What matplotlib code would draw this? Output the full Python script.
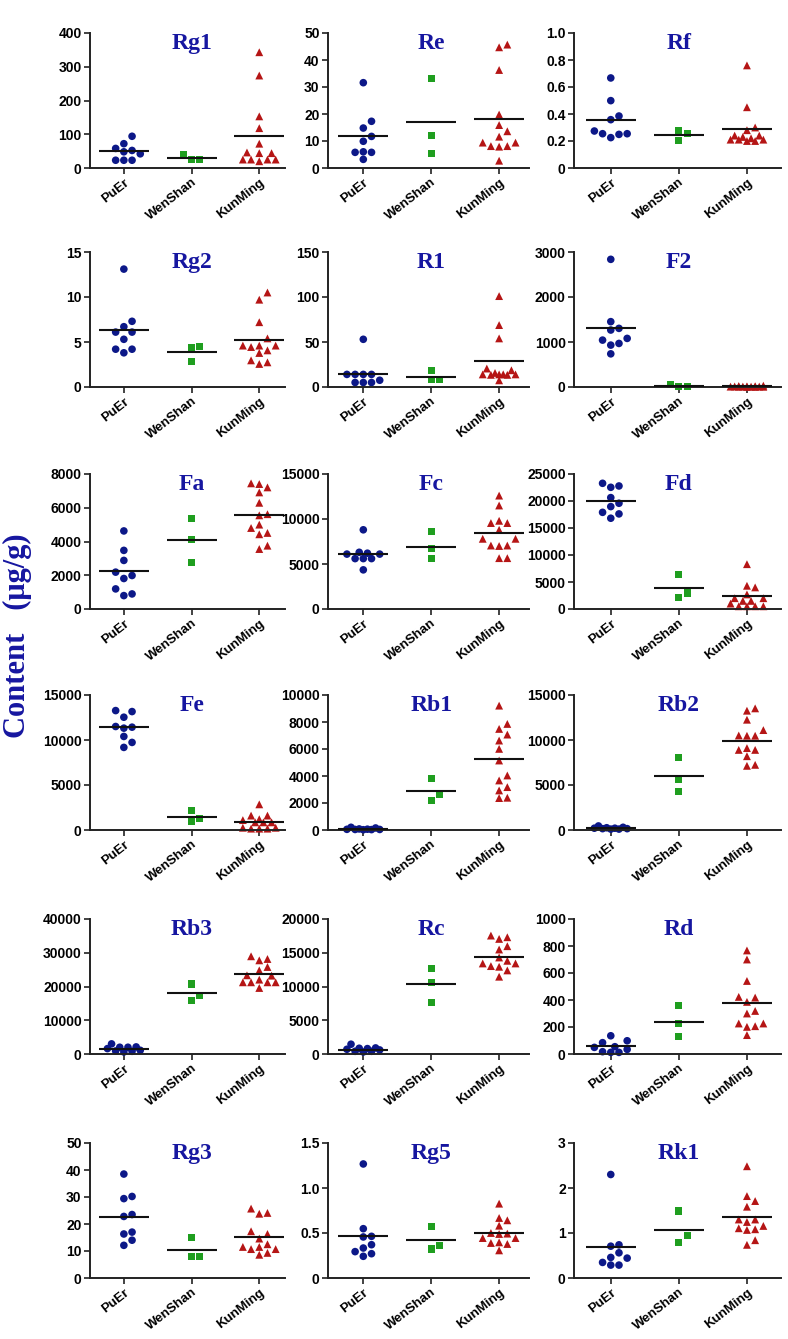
import numpy as np
import matplotlib
matplotlib.use('Agg')
import matplotlib.pyplot as plt
from matplotlib.ticker import FuncFormatter

origins = ['PuEr', 'WenShan', 'KunMing']
compounds = ['Rg1', 'Re', 'Rf', 'Rg2', 'R1', 'F2', 'Fa', 'Fc', 'Fd',
             'Fe', 'Rb1', 'Rb2', 'Rb3', 'Rc', 'Rd', 'Rg3', 'Rg5', 'Rk1']
y_max = [400, 50, 1.0, 15, 150, 3000, 8000, 15000, 25000,
         15000, 10000, 15000, 40000, 20000, 1000, 50, 1.5, 3]
y_step = [100, 10, 0.2, 5, 50, 1000, 2000, 5000, 5000,
          5000, 2000, 5000, 10000, 5000, 200, 10, 0.5, 1]

# values (ug/g)
puer = [
    [94, 72, 58, 52, 48, 42, 23, 23, 23],
    [31.6, 17.3, 14.8, 11.7, 9.9, 6.0, 5.8, 5.8, 3.2],
    [0.667, 0.499, 0.385, 0.358, 0.274, 0.254, 0.225, 0.249, 0.254],
    [13.1, 7.3, 6.7, 6.1, 6.1, 5.3, 4.2, 4.2, 3.8],
    [53, 14, 14, 14, 14, 7.5, 5, 5, 5],
    [2837, 1452, 1266, 1303, 1080, 968, 931, 1042, 737],
    [4626, 3474, 2879, 2184, 1985, 1807, 1191, 794, 893],
    [8800, 6300, 6200, 6100, 6100, 5600, 5600, 5600, 4350],
    [23276, 22783, 22537, 20628, 19581, 18966, 17900, 17611, 16810],
    [13159, 13269, 12532, 11500, 11426, 11316, 10394, 9731, 9178],
    [200, 150, 80, 60, 50, 40, 40, 30, 20],
    [450, 300, 250, 200, 200, 150, 150, 100, 100],
    [3000, 2100, 2000, 2000, 1600, 1100, 900, 800, 600],
    [1450, 900, 850, 800, 700, 600, 400, 400, 300],
    [135, 98, 84, 54, 49, 34, 17, 12, 12],
    [38.5, 30.2, 29.4, 23.5, 22.8, 17.0, 16.3, 14.0, 12.1],
    [1.267, 0.548, 0.463, 0.456, 0.370, 0.333, 0.293, 0.270, 0.241],
    [2.30, 0.737, 0.707, 0.56, 0.457, 0.442, 0.346, 0.287, 0.287],
]
wenshan = [
    [40, 24, 24],
    [33.1, 12.0, 5.4],
    [0.279, 0.254, 0.205],
    [4.48, 4.4, 2.85],
    [18, 8, 8],
    [50, 5, 5],
    [5360, 4110, 2780],
    [8615, 6684, 5570],
    [6342, 2956, 2155],
    [2211, 1290, 921],
    [3793, 2611, 2167],
    [8057, 5644, 4307],
    [20740, 17284, 15901],
    [12727, 10565, 7617],
    [359, 226, 128],
    [15.1, 8.0, 8.0],
    [0.574, 0.359, 0.322],
    [1.489, 0.936, 0.788],
]
kunming = [
    [343, 274, 153, 118, 72, 46, 44, 44, 25, 25, 25, 25, 20],
    [45.7, 44.7, 36.3, 19.8, 15.9, 13.6, 11.6, 9.4, 9.4, 8.1, 8.1, 7.9, 2.7],
    [0.76, 0.45, 0.30, 0.28, 0.24, 0.24, 0.23, 0.22, 0.21, 0.21, 0.20, 0.20, 0.21],
    [10.5, 9.7, 7.2, 5.4, 4.6, 4.6, 4.6, 4.44, 4.07, 3.78, 2.96, 2.74, 2.56],
    [101, 68.8, 54, 20.5, 18.6, 15.6, 14.1, 14, 14, 14, 13.5, 13.5, 7.4],
    [30, 22, 18, 15, 12, 10, 10, 8, 8, 5, 5, 3, 2],
    [7445, 7405, 7206, 6909, 6294, 5618, 5550, 5000, 4800, 4507, 4427, 3752, 3554],
    [12600, 11500, 9800, 9550, 9550, 8800, 7800, 7800, 7000, 7050, 7050, 5650, 5650],
    [8300, 4300, 4000, 2700, 2000, 2000, 1500, 1500, 1000, 500, 500, 500, 500],
    [2850, 1600, 1600, 1200, 1100, 850, 850, 850, 250, 150, 150, 150, 250],
    [9212, 7857, 7488, 7069, 6626, 6010, 5148, 4039, 3670, 3177, 2931, 2389, 2365],
    [13515, 13255, 12253, 11102, 10471, 10471, 10500, 9100, 8900, 8900, 8200, 7240, 7129],
    [28950, 28150, 27750, 25780, 24790, 23310, 23210, 22030, 21240, 21240, 21240, 21240, 19560],
    [17543, 17297, 17051, 15971, 15479, 14300, 13808, 13415, 13415, 13022, 12924, 12383, 11450],
    [767, 700, 541, 423, 418, 386, 319, 300, 226, 226, 206, 201, 140],
    [25.7, 24.1, 23.8, 17.3, 16.3, 14.6, 12.5, 11.5, 11.5, 10.7, 10.7, 9.3, 8.6],
    [0.826, 0.667, 0.641, 0.581, 0.5, 0.493, 0.489, 0.444, 0.444, 0.396, 0.389, 0.378, 0.307],
    [2.483, 1.82, 1.71, 1.584, 1.30, 1.30, 1.245, 1.157, 1.105, 1.083, 1.068, 0.84, 0.737],
]
# horizontal lines (group means)
line_puer = [49, 11.85, 0.353, 6.37, 14.9, 1303, 2224, 6090, 20012,
             11390, 70, 200, 1580, 640, 59, 22.6, 0.470, 0.685]
line_wenshan = [30, 16.9, 0.247, 3.89, 11.2, 20, 4110, 6944, 3879,
                1474, 2882, 6015, 18074, 10320, 238, 10.5, 0.419, 1.076]
line_kunming = [96, 18.1, 0.291, 5.22, 29, 12, 5559, 8430, 2340,
                921, 5271, 9914, 23802, 14398, 378, 15.3, 0.50, 1.356]

colors = ['#0c1888', '#1f9e1f', '#b51515']
markers = ['o', 's', '^']
msizes = [30, 26, 32]
title_color = '#1616a0'

W, H = 788, 1339
col_left = [90, 328, 574]
col_width = [195, 201, 207]
col_xlim = [(-0.5, 2.38), (-0.52, 2.44), (-0.54, 2.5)]
row_top = [33, 252, 474, 695, 919, 1143]
ax_h = 135

SLOTS = [0, 1, -1, 2, -2, 0.5, -0.5, 1.5, -1.5]


def swarm(values, ymax, x_unit_px, d=7.5, gap=8.2):
    # greedy beeswarm in pixel space, lowest value first, limited width
    order = np.argsort(values)
    placed = []
    offs = np.zeros(len(values))
    for i in order:
        ypx = values[i] / ymax * ax_h
        best, best_dist = 0, -1
        for k in SLOTS:
            xpx = k * gap
            dist = min([np.hypot(xpx - px, ypx - py) for px, py in placed] + [1e9])
            if dist >= d:
                best = k
                break
            if dist > best_dist:
                best, best_dist = k, dist
        placed.append((best * gap, ypx))
        offs[i] = best * gap / x_unit_px
    return offs


def fmt(v, pos, step):
    if v == 0:
        return '0'
    if step < 1:
        return '%.1f' % v
    return '%d' % v


fig = plt.figure(figsize=(W / 100, H / 100), dpi=100)

for n, name in enumerate(compounds):
    r, c = divmod(n, 3)
    ax = fig.add_axes([col_left[c] / W, 1 - (row_top[r] + ax_h) / H,
                       col_width[c] / W, ax_h / H])
    x0, x1 = col_xlim[c]
    unit_px = col_width[c] / (x1 - x0)
    groups = [puer[n], wenshan[n], kunming[n]]
    lines = [line_puer[n], line_wenshan[n], line_kunming[n]]
    for g, vals in enumerate(groups):
        vals = np.array(vals, dtype=float)
        xs = g + swarm(vals, y_max[n], unit_px)
        ax.scatter(xs, vals, s=msizes[g], marker=markers[g], color=colors[g],
                   edgecolors='none', zorder=2, clip_on=False)
        ax.plot([g - 0.37, g + 0.37], [lines[g], lines[g]], color='#111111',
                lw=1.5, zorder=3, solid_capstyle='butt')
    ax.set_xlim(x0, x1)
    ax.set_ylim(0, y_max[n])
    ax.set_yticks(np.arange(0, y_max[n] + y_step[n] / 2, y_step[n]))
    ax.yaxis.set_major_formatter(FuncFormatter(lambda v, p, s=y_step[n]: fmt(v, p, s)))
    ax.set_xticks([0, 1, 2])
    ax.set_xticklabels(origins, rotation=38, ha='right', va='top',
                       rotation_mode='anchor')
    for sp in ['top', 'right']:
        ax.spines[sp].set_visible(False)
    for sp in ['left', 'bottom']:
        ax.spines[sp].set_linewidth(1.4)
        ax.spines[sp].set_color('#222222')
    ax.tick_params(axis='both', direction='out', length=4, width=1.2,
                   colors='#222222', pad=2)
    for lab in ax.get_yticklabels():
        lab.set_fontfamily('Liberation Sans')
        lab.set_fontweight('bold')
        lab.set_fontsize(10)
        lab.set_color('black')
    for lab in ax.get_xticklabels():
        lab.set_fontfamily('Liberation Sans')
        lab.set_fontweight('bold')
        lab.set_fontsize(9.5)
        lab.set_color('black')
    ax.text(1, 0.92, name, transform=ax.get_xaxis_transform(),
            ha='center', va='center', fontfamily='Liberation Serif',
            fontweight='bold', fontsize=17, color=title_color)

fig.text(0.022, 0.525, 'Content   (\u03bcg/g)', rotation=90, ha='center',
         va='center', fontfamily='Liberation Serif', fontweight='bold',
         fontsize=22, color=title_color)

fig.savefig('out.png', dpi=100)
